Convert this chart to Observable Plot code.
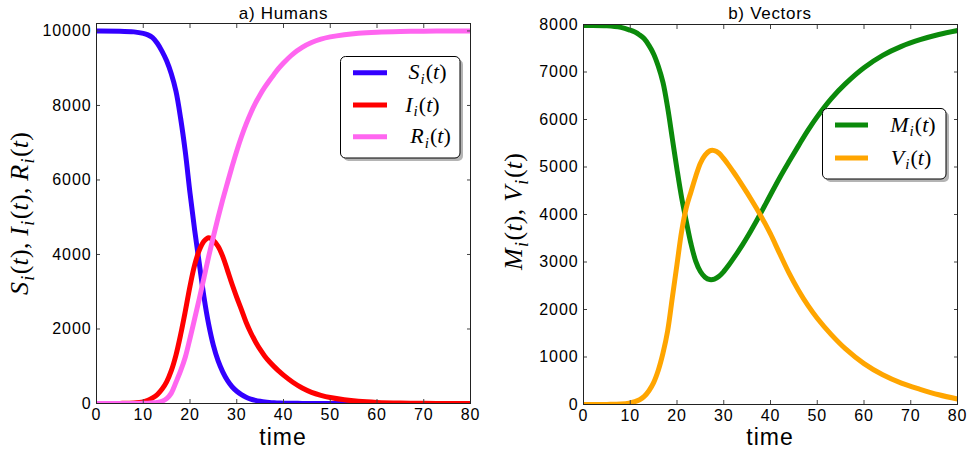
<!DOCTYPE html>
<html>
<head>
<meta charset="utf-8">
<script src="https://cdn.jsdelivr.net/npm/d3@7"></script>
<script src="https://cdn.jsdelivr.net/npm/@observablehq/plot@0.6"></script>
<style>
  body { margin: 0; background: #fff; }
  #wrap { position: relative; width: 970px; height: 452px; overflow: hidden; background: #fff; }
  #wrap > svg, #wrap > div { position: absolute; top: 0; }
  #overlay { position: absolute; left: 0; top: 0; pointer-events: none; }
</style>
</head>
<body>
<div id="wrap"></div>
<script>
// ---------- data ----------
const tH = [0,5,8,10,11,12,13,14,15,16,17,18,19,20,21,22,23,24,25,26,27,28,29,30,31,32,33,34,35,36,37,38,39,40,42,44,46,48,50,53,56,60,65,70,75,80];
const S  = [10000,9995,9975,9935,9895,9820,9670,9460,9200,8850,8380,7650,6750,5650,4650,3750,2850,2120,1560,1150,850,620,450,330,240,170,120,85,60,40,28,20,14,10,5,3,2,1,0,0,0,0,0,0,0,0];
const I  = [0,3,15,45,85,150,240,380,580,880,1300,1850,2480,3150,3720,4120,4360,4450,4380,4220,3950,3580,3200,2850,2520,2180,1900,1660,1450,1270,1120,990,870,760,570,415,300,220,160,100,60,30,12,5,2,1];
const R  = [0,0,2,5,10,18,30,60,130,280,570,880,1250,1750,2280,2820,3380,3950,4480,4990,5470,5920,6360,6780,7160,7500,7800,8060,8290,8490,8670,8840,9000,9140,9380,9560,9690,9780,9840,9900,9940,9968,9985,9993,9997,10000];

const tV = [0,5,8,10,11,12,13,14,15,16,17,18,19,20,21,22,23,24,25,26,27,28,29,30,31,32,33,34,35,36,37,38,39,40,42,44,46,48,50,53,56,60,64,68,72,76,80];
const M  = [7980,7975,7940,7880,7840,7780,7700,7560,7380,7120,6780,6250,5600,4950,4350,3850,3380,3020,2800,2680,2630,2640,2700,2800,2925,3065,3210,3360,3520,3690,3865,4045,4230,4415,4780,5120,5450,5770,6060,6440,6750,7090,7350,7540,7680,7790,7873];
const V  = [0,2,10,35,60,100,170,290,460,720,1080,1550,2250,2950,3650,4150,4480,4800,5080,5250,5340,5345,5290,5175,5045,4905,4760,4610,4455,4295,4130,3960,3780,3590,3170,2760,2400,2085,1815,1470,1175,860,625,450,320,205,115];

const xTicks  = [0,10,20,30,40,50,60,70,80];
const yTicksH = [0,2000,4000,6000,8000,10000];
const yTicksV = [0,1000,2000,3000,4000,5000,6000,7000,8000];

const colS = "#3300ff", colI = "#ff0000", colR = "#ff66f0", colM = "#0b8a0b", colV = "#ffa500";

// ---------- helpers ----------
const rows = (t, v) => t.map((d, i) => ({t: d, v: v[i]}));
const frameAxes = (yTicks) => [
  Plot.axisX({ticks: xTicks, tickSize: -4, tickPadding: 9, label: null, stroke: "#444"}),
  Plot.axisX({ticks: xTicks, anchor: "top", tickSize: -4, tickFormat: () => "", label: null, stroke: "#444"}),
  Plot.axisY({ticks: yTicks, tickSize: -4, tickPadding: 9, label: null, stroke: "#444", tickFormat: d => String(d)}),
  Plot.axisY({ticks: yTicks, anchor: "right", tickSize: -4, tickFormat: () => "", label: null, stroke: "#444"})
];
const baseStyle = {fontSize: "16px", fontFamily: "'Liberation Sans', Arial, sans-serif", color: "#000", background: "transparent", letterSpacing: "0.9px", overflow: "visible"};
const lineMark = (data, color) => Plot.line(data, {x: "t", y: "v", stroke: color, strokeWidth: 5, curve: "catmull-rom", clip: true});

const left = Plot.plot({
  width: 485, height: 452,
  marginLeft: 96, marginRight: 15, marginTop: 23, marginBottom: 49,
  style: baseStyle,
  x: {domain: [0, 80]},
  y: {domain: [0, 10200]},
  marks: [
    lineMark(rows(tH, S), colS),
    lineMark(rows(tH, I), colI),
    lineMark(rows(tH, R), colR),
    ...frameAxes(yTicksH),
    Plot.frame({stroke: "#222"})
  ]
});
const right = Plot.plot({
  width: 485, height: 452,
  marginLeft: 98, marginRight: 13, marginTop: 24, marginBottom: 48,
  style: baseStyle,
  x: {domain: [0, 80]},
  y: {domain: [0, 8000]},
  marks: [
    lineMark(rows(tV, M), colM),
    lineMark(rows(tV, V), colV),
    ...frameAxes(yTicksV),
    Plot.frame({stroke: "#222"})
  ]
});
left.style.left = "0px";
right.style.left = "485px";
const wrap = document.getElementById("wrap");
wrap.appendChild(left);
wrap.appendChild(right);

// ---------- overlay: titles, axis labels, legends ----------
function math(base, size) {
  return `<tspan>${base}</tspan><tspan font-size="${Math.round(size * 0.7)}" dx="${(size * 0.04).toFixed(1)}" dy="${(size * 0.22).toFixed(1)}">i</tspan><tspan dx="${(size * 0.05).toFixed(1)}" dy="${(-size * 0.22).toFixed(1)}" font-style="normal">(</tspan><tspan>t</tspan><tspan font-style="normal">)</tspan>`;
}
const sep = `<tspan font-style="normal">, </tspan>`;
const serif = `font-family="'Liberation Serif', 'DejaVu Serif', serif" font-style="italic"`;

function legend(x, y, w, h, entries) {
  let s = `<rect x="${x + 3}" y="${y + 3}" width="${w}" height="${h}" rx="5" fill="#777" opacity="0.55"/>`;
  s += `<rect x="${x}" y="${y}" width="${w}" height="${h}" rx="5" fill="#fff" stroke="#000" stroke-width="1"/>`;
  for (const e of entries) {
    s += `<line x1="${e.x1}" x2="${e.x2}" y1="${e.y}" y2="${e.y}" stroke="${e.color}" stroke-width="5"/>`;
    s += `<text x="${e.tx}" y="${e.y + 6.5}" text-anchor="middle" font-size="22" ${serif}>${math(e.name, 22)}</text>`;
  }
  return s;
}

const overlay = `
<svg id="overlay" width="970" height="452" xmlns="http://www.w3.org/2000/svg">
  <g font-family="'Liberation Sans', Arial, sans-serif" fill="#000">
    <text x="283.5" y="18.5" font-size="17" text-anchor="middle" letter-spacing="0.7">a) Humans</text>
    <text x="770" y="18.5" font-size="17" text-anchor="middle" letter-spacing="0.7">b) Vectors</text>
    <text x="283" y="445" font-size="23" text-anchor="middle" letter-spacing="1">time</text>
    <text x="770" y="445" font-size="23" text-anchor="middle" letter-spacing="1">time</text>
  </g>
  <text transform="translate(28,213.5) rotate(-90)" text-anchor="middle" font-size="26" ${serif} textLength="163" lengthAdjust="spacing">${math("S", 26)}${sep}${math("I", 26)}${sep}${math("R", 26)}</text>
  <text transform="translate(522,211.5) rotate(-90)" text-anchor="middle" font-size="26" ${serif} textLength="117" lengthAdjust="spacing">${math("M", 26)}${sep}${math("V", 26)}</text>
  ${legend(340.5, 56.5, 119.5, 101.5, [
    {name: "S", color: colS, x1: 353, x2: 387, y: 72.7, tx: 427.5},
    {name: "I", color: colI, x1: 353, x2: 387, y: 105, tx: 422.5},
    {name: "R", color: colR, x1: 353, x2: 387, y: 136.7, tx: 430.5}
  ])}
  ${legend(822.5, 108.5, 123.5, 70.5, [
    {name: "M", color: colM, x1: 835, x2: 868, y: 125, tx: 913},
    {name: "V", color: colV, x1: 835, x2: 868, y: 158, tx: 911}
  ])}
</svg>`;
wrap.insertAdjacentHTML("beforeend", overlay);
</script>
</body>
</html>
